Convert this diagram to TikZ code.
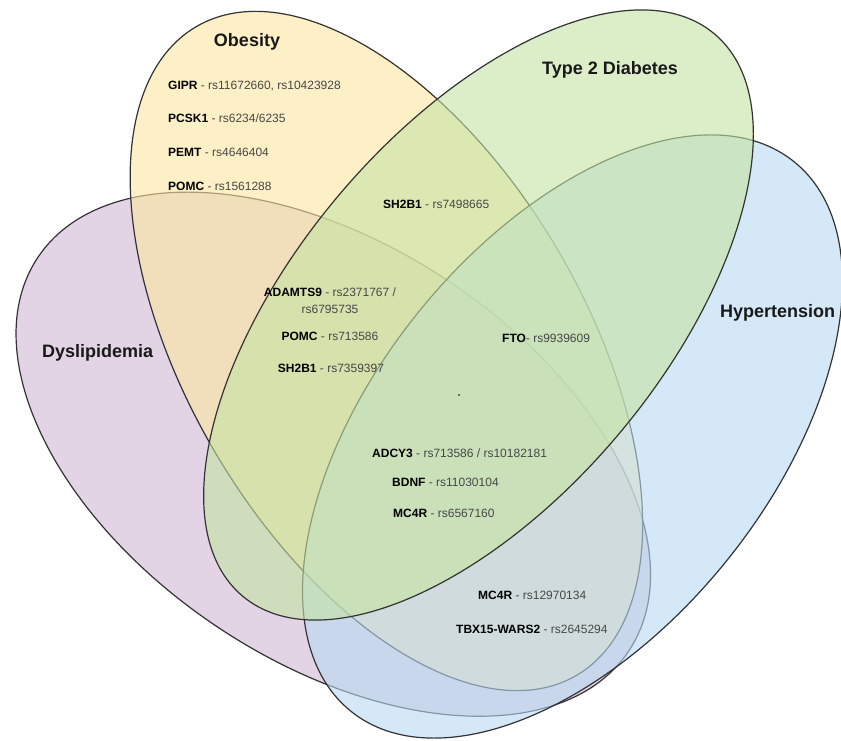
\documentclass[tikz,border=0pt]{standalone}
\usepackage{fontspec}
\setmainfont{Liberation Sans}
\definecolor{cDys}{RGB}{208,183,212}
\definecolor{cObe}{RGB}{252,230,160}
\definecolor{cHyp}{RGB}{185,218,242}
\definecolor{cT2D}{RGB}{197,228,163}
\begin{document}
\begin{tikzpicture}[x=1pt,y=1pt,
  venn/.style={draw=black!80, line width=1.2pt, fill opacity=0.6},
  gene/.style={inner sep=0pt, font=\fontsize{12}{17}\selectfont, text=black!72},
  settitle/.style={inner sep=0pt, font=\fontsize{18}{21}\selectfont\bfseries, text=black!90}]
\useasboundingbox (0,0) rectangle (841,740);
\fill[white] (0,0) rectangle (841,740);
% ellipses
\path[venn, fill=cDys, rotate around={-33.65:(333.3,285.8)}] (333.3,285.8) ellipse [x radius=355, y radius=208];
\path[venn, fill=cObe, rotate around={-59.6:(386.4,389)}] (386.4,389) ellipse [x radius=376, y radius=199];
\path[venn, fill=cHyp, rotate around={51.1:(572.5,303.5)}] (572.5,303.5) ellipse [x radius=353, y radius=198];
\path[venn, fill=cT2D, rotate around={50:(478.5,425)}] (478.5,425) ellipse [x radius=367, y radius=184];
% titles
\node[settitle] (obe) at (247,698) {Obesity};
\node[settitle, anchor=west] (t2d) at (542,670) {Type 2 Diabetes};
\node[settitle, anchor=west] (dys) at (42,387) {Dyslipidemia};
\node[settitle, anchor=west] (hyp) at (720,427) {Hypertension};
% genes
\node[gene, anchor=west] (g1) at (168,654) {\textcolor{black}{\bfseries GIPR} - rs11672660, rs10423928};
\node[gene, anchor=west] (g2) at (168,622) {\textcolor{black}{\bfseries PCSK1} - rs6234/6235};
\node[gene, anchor=west] (g3) at (168,588) {\textcolor{black}{\bfseries PEMT} - rs4646404};
\node[gene, anchor=west] (g4) at (168,554) {\textcolor{black}{\bfseries POMC} - rs1561288};
\node[gene, anchor=west] (g5) at (383,536) {\textcolor{black}{\bfseries SH2B1} - rs7498665};
\node[gene, align=center] (g6) at (330,439) {\textcolor{black}{\bfseries ADAMTS9} - rs2371767 /\\rs6795735};
\node[gene] (g7) at (330,404) {\textcolor{black}{\bfseries POMC} - rs713586};
\node[gene] (g8) at (331,372) {\textcolor{black}{\bfseries SH2B1} - rs7359397};
\node[gene, anchor=west] (g9) at (502,402) {\textcolor{black}{\bfseries FTO}- rs9939609};
\node[circle, fill=black, inner sep=0.7pt] (dot) at (459,345) {};
\node[gene, anchor=west] (g10) at (372,287) {\textcolor{black}{\bfseries ADCY3} - rs713586 / rs10182181};
\node[gene, anchor=west] (g11) at (392,258) {\textcolor{black}{\bfseries BDNF} - rs11030104};
\node[gene, anchor=west] (g12) at (393,227) {\textcolor{black}{\bfseries MC4R} - rs6567160};
\node[gene, anchor=west] (g13) at (478,145) {\textcolor{black}{\bfseries MC4R} - rs12970134};
\node[gene, anchor=west] (g14) at (456,111) {\textcolor{black}{\bfseries TBX15-WARS2} - rs2645294};
\end{tikzpicture}
\end{document}
